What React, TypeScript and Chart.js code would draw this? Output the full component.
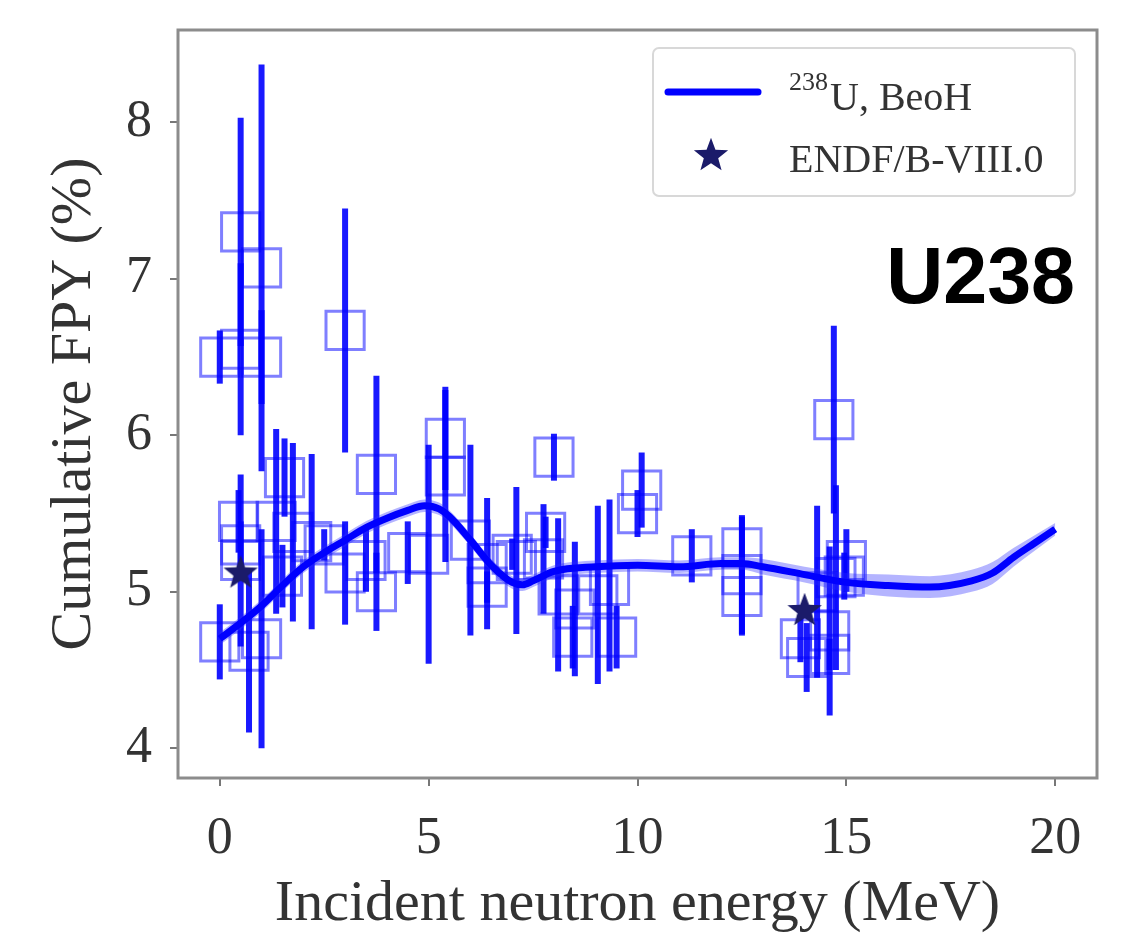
import React, { useEffect, useRef } from 'react';
import { Chart, registerables } from 'chart.js';

Chart.register(...registerables);

// ---------- data ----------
const xTickValues = [0, 5, 10, 15, 20];
const yTickValues = [4, 5, 6, 7, 8];

const beohEnergy = [0, 0.5, 1, 1.5, 2, 2.5, 3, 3.5, 4, 4.5, 4.9, 5.25, 5.5, 6, 6.5, 7, 7.25, 7.5, 8, 9, 10, 11, 12, 12.5, 13, 14, 15, 16, 17, 18, 18.5, 19, 19.5, 20];
const beohYield = [4.70, 4.80, 4.91, 5.04, 5.16, 5.25, 5.33, 5.41, 5.47, 5.52, 5.55, 5.53, 5.48, 5.33, 5.17, 5.06, 5.045, 5.07, 5.13, 5.16, 5.17, 5.16, 5.18, 5.18, 5.16, 5.11, 5.06, 5.04, 5.03, 5.07, 5.12, 5.22, 5.31, 5.40];
const beohUncert = [0.04, 0.04, 0.04, 0.04, 0.04, 0.04, 0.04, 0.04, 0.04, 0.04, 0.04, 0.04, 0.04, 0.04, 0.04, 0.04, 0.04, 0.04, 0.04, 0.04, 0.04, 0.04, 0.04, 0.04, 0.05, 0.05, 0.06, 0.07, 0.07, 0.07, 0.07, 0.06, 0.05, 0.04];

const expEnergy = [0.0, 0.0, 0.45, 0.5, 0.5, 0.5, 0.5, 0.7, 1.0, 1.0, 1.0, 1.35, 1.5, 1.55, 1.75, 2.2, 2.5, 3.0, 3.0, 3.5, 3.75, 3.75, 4.5, 5.0, 5.4, 5.4, 6.0, 6.4, 6.4, 7.0, 7.1, 7.75, 7.8, 8.0, 8.1, 8.45, 8.5, 9.05, 9.33, 9.5, 10.0, 10.1, 11.3, 12.5, 12.5, 12.5, 13.9, 14.05, 14.3, 14.6, 14.6, 14.7, 14.75, 14.95, 15.0];
const expYield = [6.50, 4.68, 5.45, 7.30, 6.55, 5.30, 5.20, 4.62, 7.07, 6.50, 4.70, 5.45, 5.10, 5.73, 5.38, 5.32, 5.30, 6.67, 5.12, 5.20, 5.75, 5.00, 5.25, 5.24, 5.98, 5.74, 5.33, 5.18, 5.03, 5.24, 5.20, 5.21, 5.38, 5.86, 4.98, 4.71, 4.89, 4.98, 5.04, 4.71, 5.50, 5.65, 5.23, 5.28, 5.11, 4.97, 4.70, 4.58, 5.00, 4.75, 4.60, 6.10, 5.09, 5.10, 5.20];
const expError = [0.17, 0.24, 0.20, 0.73, 0.55, 0.15, 0.55, 0.52, 1.30, 0.30, 0.70, 0.59, 0.20, 0.25, 0.57, 0.56, 0.10, 0.78, 0.33, 0.20, 0.63, 0.25, 0.20, 0.70, 0.33, 0.55, 0.61, 0.42, 0.10, 0.10, 0.47, 0.35, 0.10, 0.15, 0.49, 0.20, 0.43, 0.57, 0.55, 0.20, 0.15, 0.24, 0.17, 0.20, 0.38, 0.25, 0.15, 0.22, 0.55, 0.54, 0.10, 0.60, 0.59, 0.15, 0.20];

const endfEnergy = [0.5, 14.0];
const endfYield = [5.13, 4.89];

const beohLabelSup = '238';
const beohLabel = 'U, BeoH';
const endfLabel = 'ENDF/B-VIII.0';
const panelLabel = 'U238';
const xTitle = 'Incident neutron energy (MeV)';
const yTitle = 'Cumulative FPY (%)';

// ---------- helpers ----------
function makeStar(size: number, color: string) {
  const c = document.createElement('canvas');
  c.width = size;
  c.height = size;
  const g = c.getContext('2d')!;
  const cx = size / 2;
  const cy = size / 2 + size * 0.05;
  const R = size / 2;
  const r = R * 0.42;
  g.beginPath();
  for (let k = 0; k < 10; k++) {
    const rad = k % 2 === 0 ? R : r;
    const a = -Math.PI / 2 + (k * Math.PI) / 5;
    g.lineTo(cx + rad * Math.cos(a), cy + rad * Math.sin(a));
  }
  g.closePath();
  g.fillStyle = color;
  g.fill();
  return c;
}

const SERIF = '"Liberation Serif", "Times New Roman", serif';
const STAR_COLOR = '#1b1b6a';

export default function App() {
  const ref = useRef<HTMLCanvasElement | null>(null);

  useEffect(() => {
    const canvas = ref.current!;
    const star = makeStar(36, STAR_COLOR);
    const legendStar = makeStar(36, STAR_COLOR);

    const errorBars = {
      id: 'errorBars',
      beforeDatasetsDraw(chart: any) {
        const { ctx, chartArea } = chart;
        const xs = chart.scales.x;
        const ys = chart.scales.y;
        ctx.save();
        ctx.beginPath();
        ctx.rect(chartArea.left, chartArea.top, chartArea.width, chartArea.height);
        ctx.clip();
        ctx.strokeStyle = 'rgba(0,0,255,0.9)';
        ctx.lineWidth = 6;
        ctx.lineCap = 'butt';
        expEnergy.forEach((e, i) => {
          const px = xs.getPixelForValue(e);
          ctx.beginPath();
          ctx.moveTo(px, ys.getPixelForValue(expYield[i] - expError[i]));
          ctx.lineTo(px, ys.getPixelForValue(expYield[i] + expError[i]));
          ctx.stroke();
        });
        ctx.restore();
      },
    };

    const overlay = {
      id: 'overlay',
      afterDraw(chart: any) {
        const { ctx, chartArea: ca } = chart;
        ctx.save();
        // frame
        ctx.strokeStyle = '#8c8c8c';
        ctx.lineWidth = 3;
        ctx.strokeRect(ca.left, ca.top, ca.right - ca.left, ca.bottom - ca.top);

        // legend box
        const bx = ca.right - 444;
        const by = ca.top + 18;
        const bw = 422;
        const bh = 148;
        ctx.fillStyle = 'rgba(255,255,255,0.85)';
        ctx.strokeStyle = '#d8d8d8';
        ctx.lineWidth = 2;
        ctx.beginPath();
        (ctx as any).roundRect(bx, by, bw, bh, 6);
        ctx.fill();
        ctx.stroke();

        // line sample
        ctx.strokeStyle = '#0000ff';
        ctx.lineWidth = 7;
        ctx.lineCap = 'round';
        ctx.beginPath();
        ctx.moveTo(bx + 15, by + 44);
        ctx.lineTo(bx + 105, by + 44);
        ctx.stroke();

        // star sample
        ctx.drawImage(legendStar, bx + 58 - 18, by + 106 - 18);

        // texts
        ctx.fillStyle = '#333';
        ctx.textBaseline = 'alphabetic';
        ctx.textAlign = 'left';
        ctx.font = `26px ${SERIF}`;
        ctx.fillText(beohLabelSup, bx + 136, by + 42);
        const supW = ctx.measureText(beohLabelSup).width;
        ctx.font = `40px ${SERIF}`;
        ctx.fillText(beohLabel, bx + 136 + supW + 2, by + 62);
        ctx.font = `40px ${SERIF}`;
        ctx.fillText(endfLabel, bx + 136, by + 124);

        // panel label
        ctx.fillStyle = '#000';
        ctx.font = `bold 79px "Liberation Sans", Arial, sans-serif`;
        ctx.textAlign = 'right';
        ctx.fillText(panelLabel, 1075, 303);
        ctx.restore();
      },
    };

    const chart = new Chart(canvas, {
      type: 'scatter',
      data: {
        datasets: [
          {
            type: 'scatter',
            label: endfLabel,
            data: endfEnergy.map((x, i) => ({ x, y: endfYield[i] })),
            pointStyle: star as any,
            pointRadius: 18,
            order: 0,
          },
          {
            type: 'line',
            label: beohLabel,
            data: beohEnergy.map((x, i) => ({ x, y: beohYield[i] })),
            borderColor: '#0000ff',
            borderWidth: 7,
            pointRadius: 0,
            cubicInterpolationMode: 'monotone',
            fill: false,
            order: 1,
          },
          {
            type: 'line',
            label: 'lower',
            data: beohEnergy.map((x, i) => ({ x, y: beohYield[i] - beohUncert[i] })),
            borderWidth: 0,
            borderColor: 'rgba(0,0,0,0)',
            pointRadius: 0,
            cubicInterpolationMode: 'monotone',
            fill: false,
            order: 2,
          },
          {
            type: 'line',
            label: 'upper',
            data: beohEnergy.map((x, i) => ({ x, y: beohYield[i] + beohUncert[i] })),
            borderWidth: 0,
            borderColor: 'rgba(0,0,0,0)',
            backgroundColor: 'rgba(40,40,255,0.35)',
            pointRadius: 0,
            cubicInterpolationMode: 'monotone',
            fill: '-1',
            order: 2,
          },
          {
            type: 'scatter',
            label: 'exp',
            data: expEnergy.map((x, i) => ({ x, y: expYield[i] })),
            pointStyle: 'rect',
            pointRadius: 27,
            borderColor: 'rgba(0,0,255,0.5)',
            backgroundColor: 'rgba(0,0,0,0)',
            borderWidth: 3,
            order: 3,
          },
        ],
      },
      options: {
        responsive: false,
        animation: false,
        events: [],
        layout: { padding: { left: 0, right: 28, top: 30, bottom: 0 } },
        plugins: {
          legend: { display: false },
          tooltip: { enabled: false },
        },
        scales: {
          x: {
            type: 'linear',
            min: -1,
            max: 21,
            afterBuildTicks: (s: any) => {
              s.ticks = xTickValues.map((v) => ({ value: v }));
            },
            afterFit: (s: any) => {
              s.height = 158;
              s.paddingLeft = 0;
              s.paddingRight = 0;
            },
            grid: { drawOnChartArea: false, drawTicks: true, tickLength: 8, tickColor: '#777', lineWidth: 2 },
            border: { display: false },
            ticks: { color: '#333', font: { family: SERIF, size: 52 }, padding: 22, maxRotation: 0 },
            title: {
              display: true,
              text: xTitle,
              color: '#333',
              font: { family: SERIF, size: 58, lineHeight: 1.0 },
              padding: { top: 0, bottom: 2 },
            },
          },
          y: {
            type: 'linear',
            min: 3.81,
            max: 8.59,
            afterBuildTicks: (s: any) => {
              s.ticks = yTickValues.map((v) => ({ value: v }));
            },
            afterFit: (s: any) => {
              s.width = 178;
              s.paddingTop = 0;
              s.paddingBottom = 0;
            },
            grid: { drawOnChartArea: false, drawTicks: true, tickLength: 8, tickColor: '#777', lineWidth: 2 },
            border: { display: false },
            ticks: { color: '#333', font: { family: SERIF, size: 52 }, padding: 18 },
            title: {
              display: true,
              text: yTitle,
              color: '#333',
              font: { family: SERIF, size: 58, lineHeight: 1.2 },
              padding: { top: 40, bottom: 0 },
            },
          },
        },
      },
      plugins: [errorBars, overlay],
    } as any);

    return () => chart.destroy();
  }, []);

  return (
    <div style={{ position: 'fixed', left: 0, top: 0, width: 1127, height: 936, background: '#fff' }}>
      <canvas ref={ref} width={1127} height={936} style={{ display: 'block', width: 1127, height: 936 }} />
    </div>
  );
}
